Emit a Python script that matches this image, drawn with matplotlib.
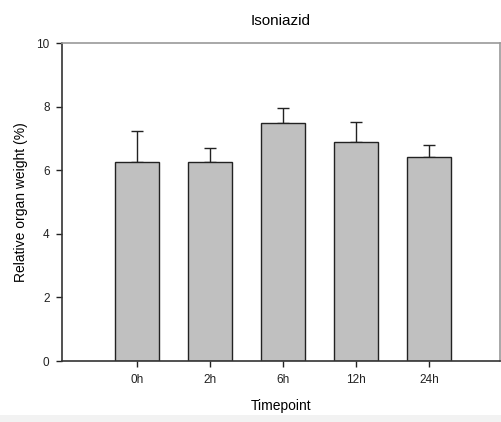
import matplotlib.pyplot as plt
import matplotlib.patches as patches

# data
timepoints = ['0h', '2h', '6h', '12h', '24h']
means = [6.27, 6.27, 7.47, 6.89, 6.42]
errors = [0.96, 0.43, 0.50, 0.64, 0.38]

plt.rcParams['font.family'] = ['Liberation Sans', 'DejaVu Sans']

fig = plt.figure(figsize=(5.01, 4.22), dpi=100)
ax = fig.add_axes([0.124, 0.1445, 0.874, 0.7535])

# light grey strip at the bottom of the original image
fig.patches.append(patches.Rectangle((0, 0), 1, 0.016, transform=fig.transFigure,
                                     facecolor='#f2f2f2', edgecolor='none', zorder=0))

x = range(len(timepoints))
ax.bar(x, means, width=0.6, color='#c0c0c0', edgecolor='#222222', linewidth=1.0, zorder=2)
ax.errorbar(x, means, yerr=[[0] * len(errors), errors], fmt='none', ecolor='#222222',
            elinewidth=1.0, capsize=4, capthick=1.0, zorder=1)

ax.set_xlim(-1.03, 4.97)
ax.set_ylim(0, 10)
ax.set_xticks(list(x))
ax.set_xticklabels(timepoints)
ax.set_yticks([0, 2, 4, 6, 8, 10])
ax.tick_params(direction='out', length=4, width=1, labelsize=8.5, colors='#222222', pad=5)

for side in ['left', 'bottom']:
    ax.spines[side].set_color('#333333')
    ax.spines[side].set_linewidth(1.2)
for side in ['top', 'right']:
    ax.spines[side].set_color('#999999')
    ax.spines[side].set_linewidth(1.2)

ax.set_title('Isoniazid', fontsize=11, pad=13)
ax.set_xlabel('Timepoint', fontsize=10, labelpad=10)
ax.set_ylabel('Relative organ weight (%)', fontsize=10, labelpad=6)

plt.savefig('out.png', dpi=100)
